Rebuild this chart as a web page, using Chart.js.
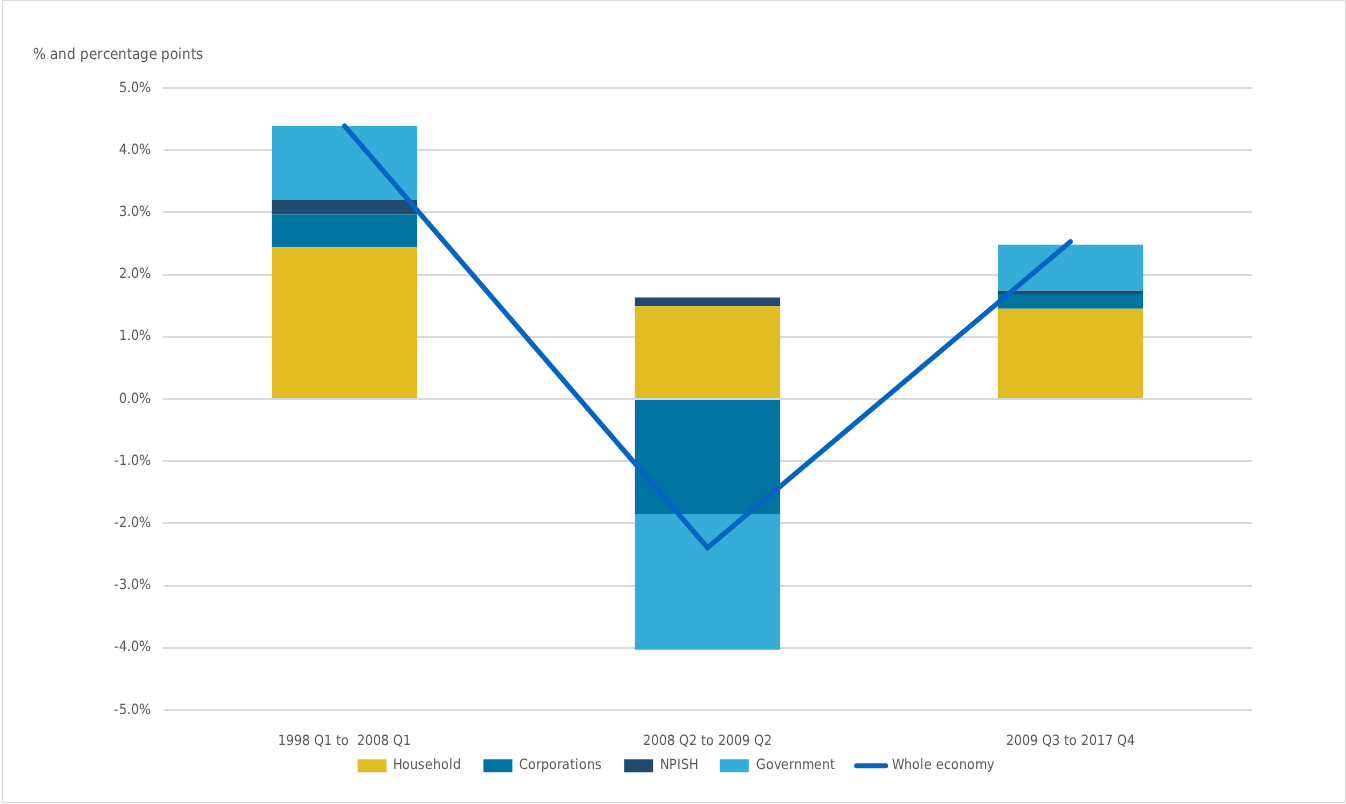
<!DOCTYPE html>
<html>
<head>
<meta charset="utf-8">
<script src="https://cdn.jsdelivr.net/npm/chart.js@4/dist/chart.umd.min.js"></script>
<style>
  @font-face {
    font-family: 'NarrowUI';
    src: local('Liberation Sans Narrow'), local('LiberationSansNarrow-Regular'),
         local('DejaVu Sans Condensed'), local('DejaVuSansCondensed');
  }
  html, body { margin: 0; padding: 0; background: #fff; }
  #wrap { position: relative; width: 1346px; height: 804px; }
  #frame { position: absolute; left: 2px; top: 0; width: 1342px; height: 801px;
           border: 1px solid #d9d9d9; pointer-events: none; }
  canvas { position: absolute; left: 0; top: 0; }
</style>
</head>
<body>
<div id="wrap">
  <canvas id="c" width="1346" height="804"></canvas>
  <div id="frame"></div>
</div>
<script>
// Contributions to growth by sector, per period (% and percentage points)
const categories = ['1998 Q1 to  2008 Q1', '2008 Q2 to 2009 Q2', '2009 Q3 to 2017 Q4'];
const household    = [2.44, 1.49, 1.45];
const corporations = [0.53, -1.85, 0.24];
const npish        = [0.23, 0.14, 0.05];
const government   = [1.19, -2.18, 0.74];
const wholeEconomy = [4.39, -2.39, 2.53];
const yTicks = [5, 4, 3, 2, 1, 0, -1, -2, -3, -4, -5];

const FONT = "NarrowUI, Lato, sans-serif";
const TEXT = '#595959';

// Axis caption in the top-left corner
const captionPlugin = {
  id: 'caption',
  afterDraw(chart) {
    const ctx = chart.ctx;
    ctx.save();
    ctx.font = '14.6px ' + FONT;
    ctx.fillStyle = TEXT;
    ctx.textAlign = 'left';
    ctx.textBaseline = 'middle';
    ctx.fillText('% and percentage points', 33, 55);
    ctx.restore();
  }
};

// Legend reserves a slim band in the layout, then is drawn slightly higher
// and centred on the whole canvas so its wide item gaps do not push the plot up.
const legendBand = {
  id: 'legendBand',
  afterInit(chart) {
    const lg = chart.legend;
    if (!lg) return;
    const fit = lg.fit;
    lg.fit = function () {
      fit.call(this);
      this.height = 26;
    };
  },
  afterLayout(chart) {
    const lg = chart.legend;
    if (!lg) return;
    lg.top = 737;
    lg.bottom = 802;
    lg.left = 0;
    lg.right = 1352;
  }
};

function draw() {
  new Chart(document.getElementById('c'), {
    data: {
      labels: categories,
      datasets: [
        { type: 'line', label: 'Whole economy', data: wholeEconomy, borderColor: '#0563C1',
          backgroundColor: '#0563C1', borderWidth: 5, pointRadius: 0, tension: 0,
          borderCapStyle: 'round', order: 0 },
        { type: 'bar', label: 'Household', data: household, backgroundColor: '#E1BC22', order: 1 },
        { type: 'bar', label: 'Corporations', data: corporations, backgroundColor: '#0073A0', order: 1 },
        { type: 'bar', label: 'NPISH', data: npish, backgroundColor: '#224A6E', order: 1 },
        { type: 'bar', label: 'Government', data: government, backgroundColor: '#36ACD9', order: 1 }
      ]
    },
    options: {
      responsive: false,
      animation: false,
      layout: { padding: { left: 0, right: 94, top: 88, bottom: 18 } },
      datasets: { bar: { categoryPercentage: 1.0, barPercentage: 0.4 } },
      scales: {
        x: {
          stacked: true,
          grid: { display: false, drawTicks: false },
          border: { display: false },
          ticks: { color: TEXT, font: { family: FONT, size: 13.5 }, padding: 23 },
          afterFit(s) { s.height = 50; }
        },
        y: {
          stacked: true,
          min: -5, max: 5,
          afterBuildTicks(s) { s.ticks = yTicks.map(v => ({ value: v })); },
          grid: { color: '#d9d9d9', lineWidth: 2, drawTicks: false },
          border: { display: false },
          ticks: { color: TEXT, font: { family: FONT, size: 13.5 }, padding: 12,
                   callback: v => v.toFixed(1) + '%' },
          afterFit(s) { s.width = 163; }
        }
      },
      plugins: {
        legend: {
          position: 'bottom',
          labels: {
            color: TEXT, font: { family: FONT, size: 13.5 },
            usePointStyle: true, pointStyleWidth: 29, boxHeight: 13, padding: 22,
            sort: (a, b) => (a.text === 'Whole economy') - (b.text === 'Whole economy'),
            generateLabels(chart) {
              const items = Chart.defaults.plugins.legend.labels.generateLabels(chart);
              items.forEach(it => {
                if (it.text === 'Whole economy') {
                  it.pointStyle = 'line';
                  it.lineWidth = 5;
                  it.lineCap = 'round';
                } else {
                  it.pointStyle = 'rect';
                  it.lineWidth = 0;
                }
              });
              return items;
            }
          }
        },
        tooltip: { enabled: false }
      }
    },
    plugins: [captionPlugin, legendBand]
  });
}

document.fonts.load('16px NarrowUI').then(draw, draw);
</script>
</body>
</html>
